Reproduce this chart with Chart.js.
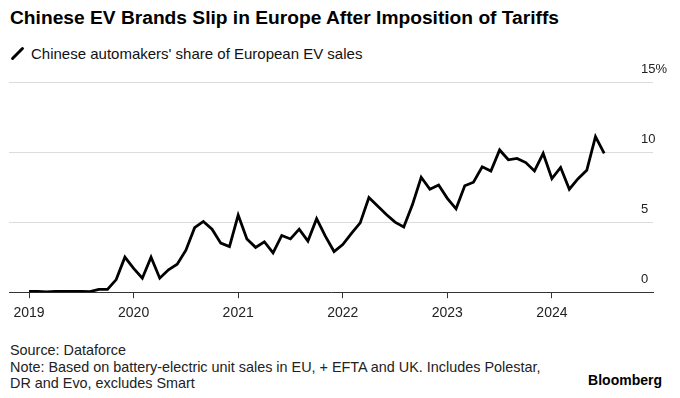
<!DOCTYPE html>
<html>
<head>
<meta charset="utf-8">
<script src="https://cdn.jsdelivr.net/npm/chart.js@4.4.1/dist/chart.umd.min.js"></script>
<style>
  body { margin: 0; width: 680px; height: 398px; background: #fff; font-family: "Liberation Sans", Arial, sans-serif; color: #000; position: relative; overflow: hidden; }
  .title { position: absolute; left: 10px; top: 7px; font-size: 19.2px; font-weight: bold; white-space: nowrap; }
  .subtitle { position: absolute; left: 31px; top: 45px; font-size: 15px; white-space: nowrap; color: #111; }
  .key { position: absolute; left: 9px; top: 52px; width: 17px; height: 3px; background: #000; border-radius: 2px; transform: rotate(-45deg); }
  .wrap { position: absolute; left: 0; top: 60px; width: 680px; height: 271px; }
  .foot { position: absolute; left: 10px; top: 342px; font-size: 14.4px; line-height: 16.5px; color: #222; white-space: nowrap; }
  .brand { position: absolute; right: 18px; top: 372px; font-size: 14px; font-weight: bold; }
</style>
</head>
<body>
<div class="title">Chinese EV Brands Slip in Europe After Imposition of Tariffs</div>
<div class="key"></div>
<div class="subtitle">Chinese automakers' share of European EV sales</div>
<div class="wrap"><canvas id="line-chart"></canvas></div>
<div class="foot">Source: Dataforce<br>Note: Based on battery-electric unit sales in EU, + EFTA and UK. Includes Polestar,<br>DR and Evo, excludes Smart</div>
<div class="brand">Bloomberg</div>

<script>
// monthly share (%), Jan 2019 .. Jul 2024
const share2019 = [0.05, 0.05, 0.02, 0.05, 0.06, 0.06, 0.06, 0.04, 0.2, 0.2, 0.9, 2.5];
const share2020 = [1.7, 1.0, 2.5, 1.0, 1.6, 2.0, 3.0, 4.6, 5.05, 4.5, 3.5, 3.25];
const share2021 = [5.5, 3.8, 3.2, 3.6, 2.8, 4.05, 3.8, 4.5, 3.65, 5.25, 4.0, 2.9];
const share2022 = [3.4, 4.2, 4.95, 6.75, 6.15, 5.55, 5.0, 4.65, 6.25, 8.2, 7.35, 7.65];
const share2023 = [6.7, 5.95, 7.6, 7.85, 8.95, 8.65, 10.15, 9.45, 9.55, 9.25, 8.65, 9.9];
const share2024 = [8.1, 8.9, 7.35, 8.1, 8.7, 11.1, 9.9];

const yearLabels = ["2019", "2020", "2021", "2022", "2023", "2024"];
const yTicks = [0, 5, 10, 15];

const share = [].concat(share2019, share2020, share2021, share2022, share2023, share2024);

new Chart(document.getElementById("line-chart"), {
  type: "line",
  data: {
    datasets: [
      {
        data: share.map((v, i) => ({ x: i, y: v })),
        borderColor: "#000",
        borderWidth: 2.8,
        borderJoinStyle: "miter",
        pointRadius: 0,
        tension: 0,
        fill: false,
      },
    ],
  },
  options: {
    responsive: true,
    maintainAspectRatio: false,
    animation: false,
    layout: { padding: { left: 9, right: 0, top: 22, bottom: 2 } },
    plugins: {
      legend: { display: false },
      tooltip: { enabled: false },
    },
    scales: {
      x: {
        type: "linear",
        min: -2.3,
        max: 71.6,
        afterBuildTicks: (scale) => {
          scale.ticks = yearLabels.map((y, i) => ({ value: i * 12 }));
        },
        ticks: {
          callback: (v) => yearLabels[v / 12],
          color: "#222",
          font: { family: "Liberation Sans", size: 14 },
          padding: 7,
          maxRotation: 0,
        },
        grid: { drawOnChartArea: false, drawTicks: true, tickLength: 6, color: "#333" },
        border: { display: true, color: "#333", width: 1 },
      },
      y: {
        position: "right",
        min: 0,
        max: 15,
        afterBuildTicks: (scale) => {
          scale.ticks = yTicks.map((v) => ({ value: v }));
        },
        afterFit: (scale) => {
          scale.width = 27;
        },
        ticks: {
          callback: (v) => (v === 15 ? v + "%" : v),
          color: "#222",
          font: { family: "Liberation Sans", size: 13 },
          mirror: true,
          crossAlign: "far",
          padding: 14,
          labelOffset: -13,
        },
        grid: { color: "#dcdcdc", drawTicks: false, lineWidth: 1 },
        border: { display: false },
      },
    },
  },
});
</script>
</body>
</html>
